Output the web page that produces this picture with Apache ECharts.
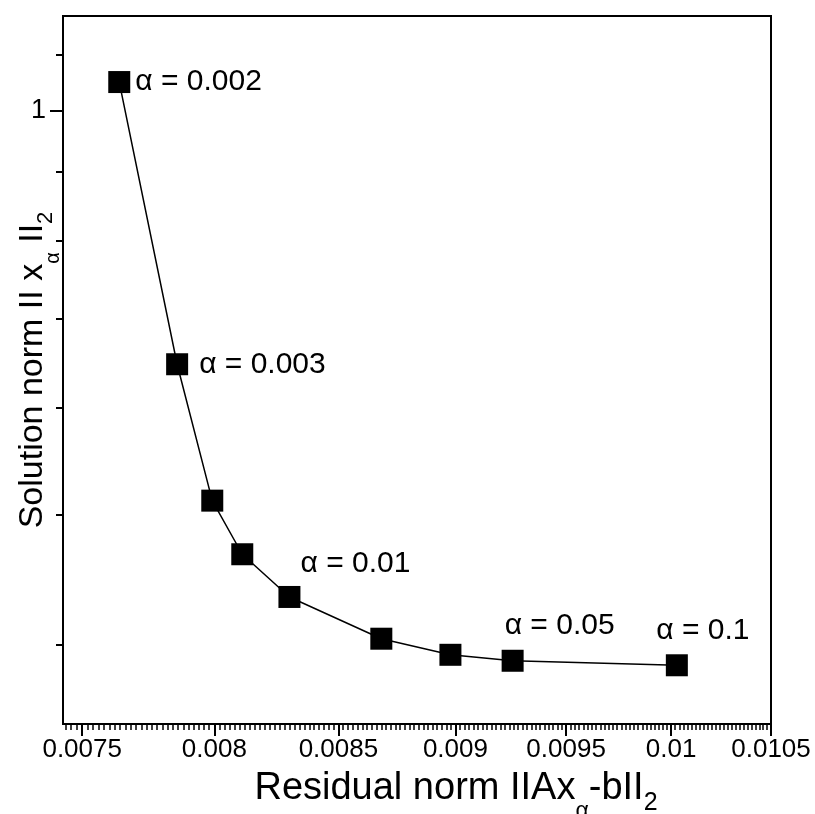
<!DOCTYPE html>
<html><head><meta charset="utf-8">
<script src="https://cdn.jsdelivr.net/npm/echarts@6/dist/echarts.min.js"></script>
<style>html,body{margin:0;padding:0;background:#fff}#c{width:815px;height:814px}</style>
</head><body><div id="c"></div>
<script>
// ---- data ----
const residualNorm = [0.007637, 0.007856, 0.007992, 0.008110, 0.008299, 0.008680, 0.008978, 0.009255, 0.010028];
const solutionNorm = [1.050, 0.647, 0.512, 0.467, 0.434, 0.404, 0.393, 0.389, 0.386];
const alphaLabels = ['α = 0.002', 'α = 0.003', '', '', 'α = 0.01', '', '', 'α = 0.05', 'α = 0.1'];
const xTickValues = [0.0075, 0.008, 0.0085, 0.009, 0.0095, 0.01, 0.0105];
const xTickLabels = ['0.0075', '0.008', '0.0085', '0.009', '0.0095', '0.01', '0.0105'];
const yMajorTicks = [1];
const yMajorLabels = ['1'];
const yMinorTicks = [1.1, 0.9, 0.8, 0.7, 0.6, 0.5, 0.4];
const xMinorStep = 0.00002;

const xMinorTicks = [];
for (let k = 372; k <= 525; k++) xMinorTicks.push(+(k * xMinorStep).toFixed(6));

const FONT = '"Liberation Sans", Arial, Helvetica, sans-serif';
function nearestLabel(values, labels, v) {
  let bi = 0, bd = Infinity;
  values.forEach((t, i) => { const d = Math.abs(Math.log(t) - Math.log(v)); if (d < bd) { bd = d; bi = i; } });
  return labels[bi];
}
const labelPlace = {
  0: { position: 'right', distance: 5, offset: [0, 0] },
  1: { position: 'right', distance: 5, offset: [6, 0] },
  4: { position: 'top', distance: 5, offset: [66, -2] },
  7: { position: 'top', distance: 5, offset: [47, -4] },
  8: { position: 'top', distance: 5, offset: [26, -4] }
};
const X_MIN = 0.00743, X_MAX = 0.0105, Y_MIN = 0.349, Y_MAX = 1.176;
const black = '#000';
function makeRich(fs) {
  return {
    m: { fontSize: fs, lineHeight: fs + 4, verticalAlign: 'top', fontFamily: FONT, color: black },
    s: { fontSize: Math.round(fs * 0.6), lineHeight: Math.round(fs * 0.6), padding: [Math.round(fs * 0.8), 0, 0, 0], verticalAlign: 'top', fontFamily: FONT, color: black },
    t: { fontSize: Math.round(fs * 0.66), lineHeight: Math.round(fs * 0.66), padding: [Math.round(fs * 0.56), 0, 0, 0], verticalAlign: 'top', fontFamily: FONT, color: black }
  };
}

const chart = echarts.init(document.getElementById('c'));
chart.setOption({
  animation: false,
  backgroundColor: '#fff',
  grid: { left: 63, right: 44, top: 16, bottom: 90, show: true, borderColor: black, borderWidth: 2, backgroundColor: 'transparent', outerBoundsMode: 'none', containLabel: false },
  xAxis: [
    {
      type: 'log', logBase: 10, min: X_MIN, max: X_MAX, position: 'bottom',
      axisLine: { show: true, lineStyle: { color: black, width: 2 } },
      axisTick: { show: true, customValues: xTickValues, length: 12, lineStyle: { color: black, width: 2 } },
      axisLabel: { show: true, customValues: xTickValues, formatter: v => nearestLabel(xTickValues, xTickLabels, v), fontSize: 26, color: black, fontFamily: FONT, margin: 13 },
      splitLine: { show: false }, minorTick: { show: false },
      name: '{m|Residual norm IIAx}{s|α}{m|-bII}{t|2}',
      nameLocation: 'middle', nameGap: 46, nameMoveOverlap: false,
      nameTextStyle: { fontSize: 38, fontFamily: FONT, color: black, padding: [0, 0, 0, 78], rich: makeRich(38) }
    },
    {
      type: 'log', logBase: 10, min: X_MIN, max: X_MAX, position: 'bottom', offset: 0,
      axisLine: { show: false },
      axisTick: { show: true, customValues: xMinorTicks, length: 6, lineStyle: { color: black, width: 1.5 } },
      axisLabel: { show: false }, splitLine: { show: false }
    }
  ],
  yAxis: [
    {
      type: 'log', logBase: 10, min: Y_MIN, max: Y_MAX, position: 'left',
      axisLine: { show: true, lineStyle: { color: black, width: 2 } },
      axisTick: { show: true, customValues: yMajorTicks, length: 13, lineStyle: { color: black, width: 2 } },
      axisLabel: { show: true, customValues: yMajorTicks, formatter: v => nearestLabel(yMajorTicks, yMajorLabels, v), fontSize: 27, color: black, fontFamily: FONT, margin: 17 },
      splitLine: { show: false }, minorTick: { show: false },
      name: '{m|Solution norm II x}{s|α}{m| II}{t|2}',
      nameLocation: 'middle', nameGap: 9, nameMoveOverlap: false,
      nameTextStyle: { fontSize: 34, fontFamily: FONT, color: black, rich: makeRich(34) }
    },
    {
      type: 'log', logBase: 10, min: Y_MIN, max: Y_MAX, position: 'left', offset: 0,
      axisLine: { show: false },
      axisTick: { show: true, customValues: yMinorTicks, length: 7, lineStyle: { color: black, width: 2 } },
      axisLabel: { show: false }, splitLine: { show: false }
    }
  ],
  series: [{
    type: 'line',
    xAxisIndex: 0, yAxisIndex: 0,
    data: residualNorm.map((x, i) => ({
      value: [x, solutionNorm[i]],
      label: Object.assign({ show: !!alphaLabels[i], formatter: alphaLabels[i] || ' ' }, labelPlace[i] || {})
    })),
    symbol: 'rect', symbolSize: 22,
    itemStyle: { color: black },
    lineStyle: { color: black, width: 1.5 },
    label: { fontSize: 30, color: black, fontFamily: FONT },
    z: 3
  }]
});
</script>
</body></html>
